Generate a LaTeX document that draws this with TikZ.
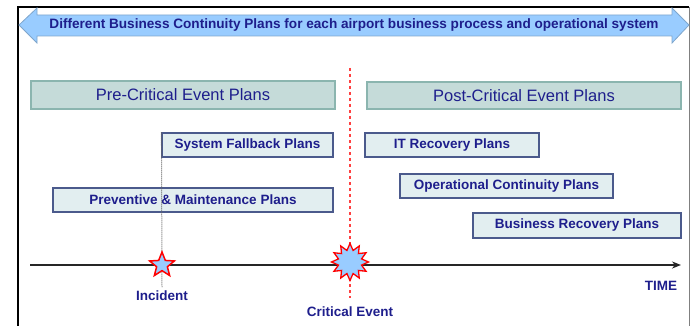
\documentclass[tikz,border=0pt]{standalone}
\usepackage{fontspec}
\setmainfont{Liberation Sans}
\usetikzlibrary{shapes.geometric,arrows.meta}
\definecolor{navytext}{HTML}{1E1E8C}
\definecolor{bannerfill}{HTML}{99CCFF}
\definecolor{bannerline}{HTML}{7FA6CC}
\definecolor{headfill}{HTML}{C5DBD9}
\definecolor{headline}{HTML}{8BB5AF}
\definecolor{planfill}{HTML}{E2EEF0}
\definecolor{planline}{HTML}{4B5A8C}
\tikzset{
  headbox/.style={draw=headline, fill=headfill, line width=1.2pt, text=navytext,
    font=\fontsize{16.5}{18}\selectfont, inner sep=0pt},
  planbox/.style={draw=planline, fill=planfill, line width=1.1pt, text=navytext,
    font=\fontsize{13.5}{15}\bfseries, inner sep=0pt, minimum height=24pt},
  axislabel/.style={text=navytext, font=\fontsize{13.5}{15}\bfseries, inner sep=0pt},
}

\begin{document}
\begin{tikzpicture}[x=1pt,y=-1pt]
	\useasboundingbox (0,0) rectangle (690,326);
	\draw[line width=1.3pt] (18,326) -- (18,7) -- (689,7);% frame, left and top
	\draw[gray, line width=0.6pt] (689,7) -- (689,326);% frame, right
	% banner double arrow
	\draw[bannerline, fill=bannerfill, line width=0.8pt] (19,25) -- (37,8) -- (37,15) -- (672,15) -- (672,8)
	  -- (689,25) -- (672,43) -- (672,36) -- (37,36) -- (37,43) -- cycle;
	\node[text=navytext, font=\fontsize{13.6}{15}\bfseries, inner sep=0pt] (banner) at (354,25)
	  {Different Business Continuity Plans for each airport business process and operational system};
	% phase headers
	\node[headbox, minimum width=304pt, minimum height=28pt] (pre) at (183,95) {Pre-Critical Event Plans};
	\node[headbox, minimum width=314pt, minimum height=27pt] (post) at (524,95.5) {Post-Critical Event Plans};
	% plans
	\node[planbox, minimum width=171pt] (fallback) at (247.5,145) {System Fallback Plans};
	\node[planbox, minimum width=280pt] (preventive) at (193,200) {Preventive \& Maintenance Plans};
	\node[planbox, minimum width=174pt] (itrec) at (452,145) {IT Recovery Plans};
	\node[planbox, minimum width=213pt] (opcont) at (506.5,186) {Operational Continuity Plans};
	\node[planbox, minimum width=208pt, minimum height=25pt] (busrec) at (577,225.5) {Business Recovery Plans};
	% time axis
	\coordinate (axisstart) at (30,265);
	\coordinate (axisend) at (681,265);
	\draw[-{Stealth[length=9pt,width=7pt]}, line width=1.5pt, black!85] (axisstart) -- (axisend);
	\node[axislabel] (time) at (661,286) {TIME};
	% incident
	\coordinate (incbottom) at (162,287);
	\draw[gray!80!black, densely dotted, line width=1pt] (fallback.north west) -- (incbottom);
	\node[star, star points=5, star point ratio=2.3, minimum size=26pt, inner sep=0pt,
	  draw=red, fill=bannerfill, line width=1.5pt] (incstar) at (162,265) {};
	\node[axislabel] (incident) at (162,296) {Incident};
	% critical event
	\coordinate (crittop) at (350,68);
	\coordinate (critbottom) at (350,298);
	\draw[red!75, dashed, line width=1.1pt] (crittop) -- (critbottom);
	\node[star, star points=12, star point ratio=1.55, minimum size=37pt, inner sep=0pt,
	  draw=red, fill=bannerfill, line width=1.3pt] (burst) at (350,262) {};
	\node[axislabel] (critical) at (350,312) {Critical Event};
\end{tikzpicture}
\end{document}
